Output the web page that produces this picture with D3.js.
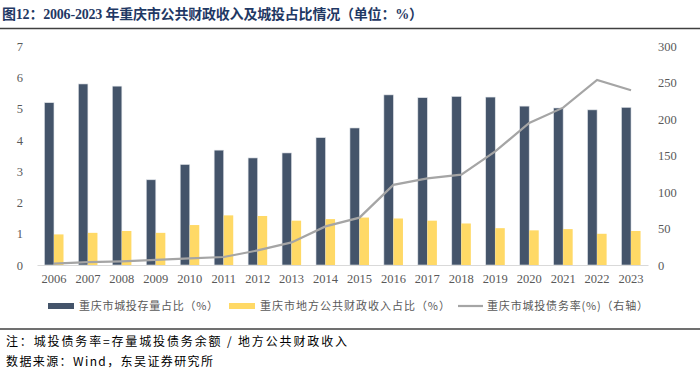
<!DOCTYPE html>
<html>
<head>
<meta charset="utf-8">
<script src="https://cdn.jsdelivr.net/npm/d3@7"></script>
<style>
  body { margin: 0; background: #fff; }
  svg { display: block; }
  .tick text { font-family: "Liberation Serif", "Times New Roman", serif; font-size: 12.5px; fill: #595959; }
  .legend text { font-family: "Noto Sans CJK SC", sans-serif; font-size: 11px; fill: #595959; }
  .note { font-family: "Noto Sans CJK SC", sans-serif; font-size: 12px; fill: #000; }
</style>
</head>
<body>
<svg id="chart" width="700" height="373"></svg>
<script>
// DATA
const years = ["2006","2007","2008","2009","2010","2011","2012","2013","2014","2015",
    "2016","2017","2018","2019","2020","2021","2022","2023"];
const stockShare = [5.2, 5.8, 5.73, 2.73, 3.22, 3.68, 3.43, 3.59, 4.08, 4.39,
    5.45, 5.36, 5.4, 5.38, 5.09, 5.03, 4.97, 5.05];
const revenueShare = [0.98, 1.03, 1.09, 1.03, 1.28, 1.59, 1.57, 1.42, 1.47, 1.52,
    1.49, 1.42, 1.33, 1.18, 1.11, 1.15, 1.0, 1.09];
const debtRatio = [2, 4, 5, 7, 9, 11, 20, 31, 53, 65,
    110, 119, 124, 156, 195, 216, 254, 240];
const leftTicks = [0, 1, 2, 3, 4, 5, 6, 7];
const rightTicks = [0, 50, 100, 150, 200, 250, 300];

const colors = { stock: "#44546a", revenue: "#ffd966", ratio: "#a5a5a5" };

const svg = d3.select("#chart");

// SETUP: plot area
const margin = { top: 46.5, right: 52, bottom: 108, left: 37 },
    width = 700 - margin.left - margin.right,
    height = 373 - margin.top - margin.bottom;

const g = svg.append("g")
    .attr("transform", `translate(${margin.left},${margin.top})`);

// TITLE
svg.append("text")
    .attr("x", 2)
    .attr("y", 19)
    .attr("font-family", "'Liberation Serif', 'Noto Sans CJK SC', serif")
    .attr("font-weight", "bold")
    .attr("font-size", 14)
    .attr("fill", "#1f3864")
    .attr("textLength", 421)
    .attr("lengthAdjust", "spacing")
    .text("图12：2006-2023 年重庆市公共财政收入及城投占比情况（单位：%）");

svg.append("line")
    .attr("x1", 0).attr("x2", 700)
    .attr("y1", 28.5).attr("y2", 28.5)
    .attr("stroke", "#404040").attr("stroke-width", 1.5);

// SCALES
const x = d3.scaleBand()
    .domain(years)
    .range([0, width]);

const inner = d3.scaleBand()
    .domain(["stock", "revenue"])
    .range([0, x.bandwidth()])
    .paddingInner(0)
    .paddingOuter(0.78);

const yLeft = d3.scaleLinear().domain([0, 7]).range([height, 0]);
const yRight = d3.scaleLinear().domain([0, 300]).range([height, 0]);

// BARS
const groups = g.selectAll(".year")
    .data(years.map((y, i) => ({ year: y, stock: stockShare[i], revenue: revenueShare[i] })))
    .enter()
    .append("g")
    .attr("transform", d => `translate(${x(d.year)},0)`);

groups.append("rect")
    .attr("x", inner("stock"))
    .attr("y", d => yLeft(d.stock))
    .attr("width", inner.bandwidth())
    .attr("height", d => height - yLeft(d.stock))
    .attr("fill", colors.stock)
    .attr("stroke", "#dfe3e8")
    .attr("stroke-width", 0.6);

groups.append("rect")
    .attr("x", inner("revenue"))
    .attr("y", d => yLeft(d.revenue))
    .attr("width", inner.bandwidth())
    .attr("height", d => height - yLeft(d.revenue))
    .attr("fill", colors.revenue);

// AXES
const xAxis = g.append("g")
    .attr("transform", `translate(0,${height})`)
    .call(d3.axisBottom(x).tickSize(0).tickPadding(9));
xAxis.select(".domain").attr("stroke", "#d9d9d9").attr("stroke-width", 1.2);

const leftAxis = g.append("g")
    .call(d3.axisLeft(yLeft).tickValues(leftTicks).tickFormat(d3.format("d"))
        .tickSize(0).tickPadding(14));
leftAxis.select(".domain").remove();

const rightAxis = g.append("g")
    .attr("transform", `translate(${width},0)`)
    .call(d3.axisRight(yRight).tickValues(rightTicks).tickSize(0).tickPadding(10));
rightAxis.select(".domain").remove();

// LINE
const line = d3.line()
    .x((d, i) => x(years[i]) + x.bandwidth() / 2)
    .y(d => yRight(d));

g.append("path")
    .datum(debtRatio)
    .attr("d", line)
    .attr("fill", "none")
    .attr("stroke", colors.ratio)
    .attr("stroke-width", 2.2);

// LEGEND
const legendItems = [
    { label: "重庆市城投存量占比（%）", color: colors.stock, type: "rect", x: 48, len: 139 },
    { label: "重庆市地方公共财政收入占比（%）", color: colors.revenue, type: "rect", x: 229, len: 190 },
    { label: "重庆市城投债务率(%)（右轴）", color: colors.ratio, type: "line", x: 458, len: 161 }
];

const legend = svg.append("g").attr("class", "legend")
    .attr("transform", "translate(0,306)");

legendItems.forEach(item => {
    const lg = legend.append("g").attr("transform", `translate(${item.x},0)`);
    if (item.type === "rect") {
        lg.append("rect")
            .attr("x", 0).attr("y", -3)
            .attr("width", 26).attr("height", 6)
            .attr("fill", item.color);
    } else {
        lg.append("line")
            .attr("x1", 0).attr("x2", 25)
            .attr("y1", 0).attr("y2", 0)
            .attr("stroke", item.color).attr("stroke-width", 2.2);
    }
    lg.append("text")
        .attr("x", item.type === "rect" ? 31 : 29)
        .attr("y", 4)
        .attr("textLength", item.len)
        .attr("lengthAdjust", "spacing")
        .text(item.label);
});

// NOTES
svg.append("line")
    .attr("x1", 0).attr("x2", 700)
    .attr("y1", 329).attr("y2", 329)
    .attr("stroke", "#404040").attr("stroke-width", 1.5);

svg.append("text").attr("class", "note")
    .attr("x", 6).attr("y", 346)
    .attr("textLength", 341)
    .attr("lengthAdjust", "spacing")
    .text("注：城投债务率=存量城投债务余额 / 地方公共财政收入");

svg.append("text").attr("class", "note")
    .attr("x", 6).attr("y", 366)
    .attr("textLength", 207)
    .attr("lengthAdjust", "spacing")
    .text("数据来源：Wind，东吴证券研究所");
</script>
</body>
</html>
